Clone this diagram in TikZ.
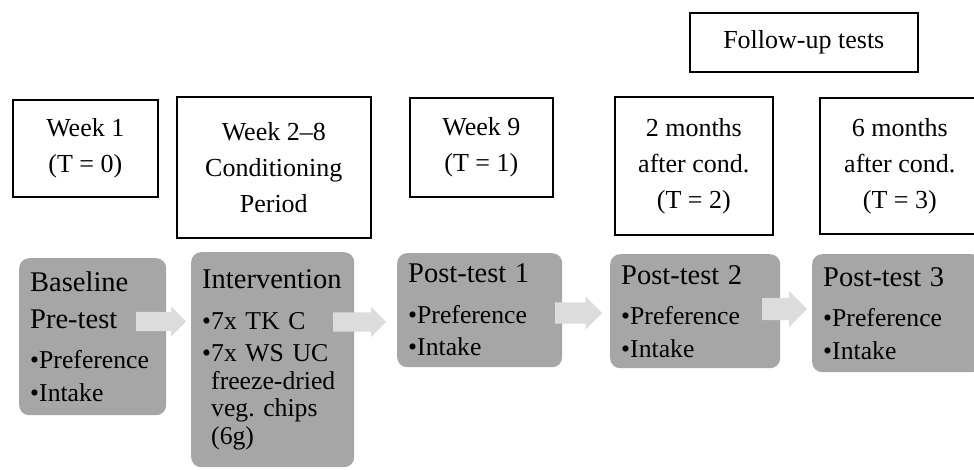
\documentclass[tikz,border=0pt]{standalone}
\usepackage{fontspec}
\setmainfont{Liberation Serif}
\usetikzlibrary{shapes.arrows}

\definecolor{phasegray}{HTML}{A6A6A6}
\definecolor{arrowgray}{HTML}{DCDCDC}

\tikzset{
	timebox/.style={draw=black, line width=1.6pt, fill=white, anchor=north west, align=center, inner sep=0pt, font=\fontsize{26}{36}\selectfont},
	phasebox/.style={fill=phasegray, rounded corners=10pt, anchor=north west, align=left, inner xsep=11pt, inner ysep=0pt, font=\fontsize{25.7}{27.5}\selectfont\frenchspacing},
	steparrow/.style={single arrow, fill=arrowgray, inner xsep=0pt, anchor=tail}
}
\newcommand{\phasetitle}[1]{{\fontsize{28.5}{34}\selectfont #1}}
\newcommand{\hangbul}{\phantom{\textbullet}}

\begin{document}
\begin{tikzpicture}[x=1pt, y=-1pt]
	\useasboundingbox[fill=white] (0,0) rectangle (974,470);

	%% TIME POINTS
	\node[timebox, minimum width=145pt, minimum height=97pt] (week1) at (12,99) {Week 1\\(T = 0)};
	\node[timebox, minimum width=194pt, minimum height=141pt] (week28) at (176,96) {Week 2--8\\Conditioning\\Period};
	\node[timebox, minimum width=143pt, minimum height=99pt] (week9) at (409,97) {Week 9\\(T = 1)};
	\node[timebox, minimum width=158pt, minimum height=138pt] (month2) at (614,96) {2 months\\after cond.\\(T = 2)};
	\node[timebox, minimum width=160pt, minimum height=136pt] (month6) at (819,97) {6 months\\after cond.\\(T = 3)};

	% follow-up header
	\node[timebox, minimum width=228pt, minimum height=59pt] (followup) at (689,12) {Follow-up tests};

	%% PHASES
	\node[phasebox, text width=125pt, minimum height=157pt] (baseline) at (19,258)
		{\phasetitle{Baseline}\\[9.5pt]\phasetitle{Pre-test}\\[13pt]\textbullet Preference\\[5pt]\textbullet Intake};
	\node[phasebox, text width=141pt, minimum height=215pt] (intervention) at (191,252)
		{\phasetitle{Intervention}\\[13pt]\textbullet 7x TK C\\[5pt]\textbullet 7x WS UC\\\hangbul freeze-dried\\\hangbul veg. chips\\\hangbul (6g)};
	\node[phasebox, text width=143pt, minimum height=114pt] (post1) at (397,253)
		{\phasetitle{Post-test 1}\\[13pt]\textbullet Preference\\[5pt]\textbullet Intake};
	\node[phasebox, text width=148pt, minimum height=114pt] (post2) at (610,254)
		{\phasetitle{Post-test 2}\\[13pt]\textbullet Preference\\[5pt]\textbullet Intake};
	\node[phasebox, text width=148pt, minimum height=118pt] (post3) at (812,254)
		{\phasetitle{Post-test 3}\\[13pt]\textbullet Preference\\[5pt]\textbullet Intake};

	%% ARROWS
	\node[steparrow, minimum height=50pt, inner ysep=9.5pt, single arrow head extend=5.5pt] (arr_base_int) at (136,321.5) {};
	\node[steparrow, minimum height=53pt, inner ysep=9.5pt, single arrow head extend=5.5pt] (arr_int_post1) at (333,322) {};
	\node[steparrow, minimum height=47pt, inner ysep=10.5pt, single arrow head extend=6pt] (arr_post1_post2) at (555,313) {};
	\node[steparrow, minimum height=45pt, inner ysep=11pt, single arrow head extend=7pt] (arr_post2_post3) at (762,309) {};

\end{tikzpicture}
\end{document}
